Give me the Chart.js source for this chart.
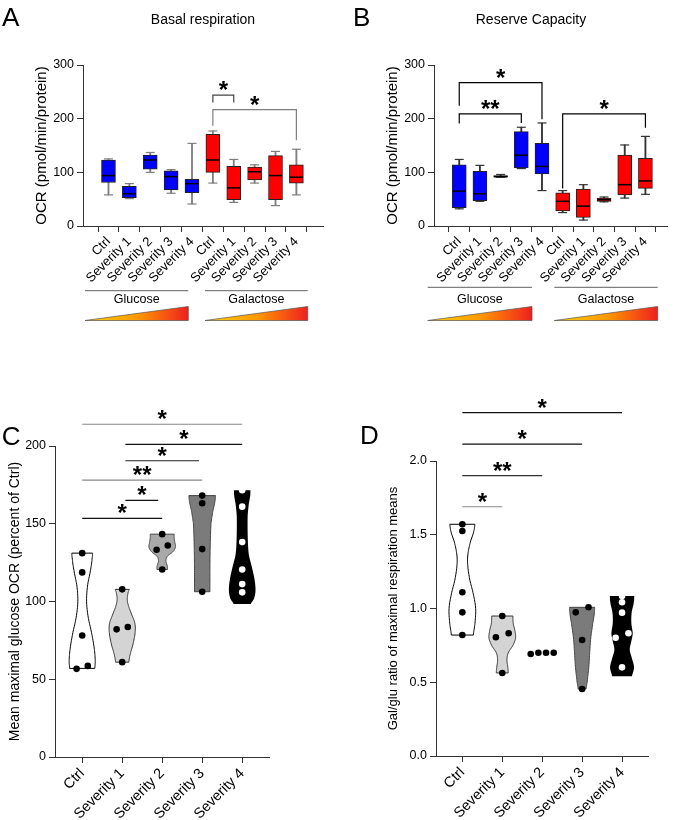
<!DOCTYPE html>
<html>
<head>
<meta charset="utf-8">
<script src="https://cdn.jsdelivr.net/npm/chart.js@4.4.0/dist/chart.umd.min.js"></script>
<style>
  html, body { margin: 0; background: #fff; }
  body { position: relative; width: 675px; height: 820px; overflow: hidden; }
  canvas { position: absolute; }
</style>
</head>
<body>
<canvas id="panelA" width="337" height="330" style="left:0;top:0"></canvas>
<canvas id="panelB" width="338" height="330" style="left:337px;top:0"></canvas>
<canvas id="panelC" width="337" height="440" style="left:0;top:380px"></canvas>
<canvas id="panelD" width="338" height="440" style="left:337px;top:380px"></canvas>
<script>
const FONT = "'Liberation Sans', Arial, Helvetica, sans-serif";

// ---------- data ----------
const severities = ['Ctrl', 'Severity 1', 'Severity 2', 'Severity 3', 'Severity 4'];
const media = ['Glucose', 'Galactose'];
const boxLabels = media.flatMap(() => severities);

// A: basal respiration, OCR (pmol/min/protein) - glucose groups then galactose groups
const basalMin    = [58, 51, 100, 61, 41, 80, 44, 80, 38, 58];
const basalQ1     = [81, 53, 106, 67, 62, 100, 49, 86, 49, 80];
const basalMedian = [94, 60, 123, 92, 79, 123, 71, 101, 94, 91];
const basalQ3     = [123, 74, 132, 103, 87, 171, 111, 110, 131, 114];
const basalMax    = [125, 79, 137, 105, 154, 177, 124, 114, 139, 143];

// B: reserve capacity
const reserveMin    = [32, 46, 91, 107, 66, 25, 11, 45, 52, 59];
const reserveQ1     = [34, 47, 91, 108, 97, 28, 16, 46, 58, 70];
const reserveMedian = [65, 60, 92, 132, 111, 46, 37, 49, 77, 84];
const reserveQ3     = [114, 102, 94, 176, 154, 62, 69, 52, 132, 126];
const reserveMax    = [124, 113, 96, 184, 192, 66, 77, 54, 151, 167];

// brackets: [from, to, bar level, left leg end, right leg end, label]
const basalSig   = [[5, 6, 244, 230, 230, '*'], [5, 9, 217, 187, 160, '*']];
const reserveSig = [[0, 4, 267, 224, 199, '*'], [0, 3, 209, 191, 192, '**'], [5, 9, 209, 70, 183, '*']];

// C: mean maximal glucose OCR (percent of Ctrl), one list per severity
const maxOcrPoints = [
  [131.1, 118.7, 78.1, 58.6, 56.7],
  [107.8, 83.6, 82.1, 61.0],
  [143.3, 136.0, 133.3, 120.6],
  [168.1, 163.2, 133.7, 106.3],
  [171.5, 161.0, 138.2, 120.6, 111.2, 105.9]
];
// violin outlines: [value, relative density]
const maxOcrViolin = [
  [[57, 0.95], [62, 0.98], [70, 0.9], [80, 0.7], [90, 0.45], [100, 0.33], [110, 0.4], [120, 0.62], [128, 0.75], [131.1, 0.78]],
  [[61, 0.5], [66, 0.6], [72, 0.8], [80, 0.97], [86, 0.95], [92, 0.7], [98, 0.45], [102, 0.38], [106, 0.45], [107.8, 0.53]],
  [[120.6, 0.4], [123, 0.38], [126, 0.28], [129, 0.38], [132, 0.8], [135, 1.0], [138, 0.95], [141, 0.9], [143.3, 0.9]],
  [[106.3, 0.58], [120, 0.58], [135, 0.6], [150, 0.66], [158, 0.8], [164, 0.95], [168.1, 1.0]],
  [[98.4, 0.65], [102, 0.9], [107, 1.0], [114, 0.93], [122, 0.73], [130, 0.5], [140, 0.42], [155, 0.41], [163, 0.5], [168, 0.6], [171.5, 0.62]]
];
// lines: [from, to, level, label]
const maxOcrSig = [[0, 4, 214, '*'], [1.08, 4, 201, '*'], [1.08, 2.92, 190.5, '*'], [0, 3, 178, '**'], [1.08, 1.9, 165, '*'], [0, 2, 153.5, '*']];

// D: gal/glu ratio of maximal respiration means
const ratioPoints = [
  [1.571, 1.525, 1.110, 0.974, 0.820],
  [0.949, 0.832, 0.805, 0.563],
  [0.692, 0.700, 0.700, 0.700],
  [1.008, 0.974, 0.786, 0.454],
  [1.085, 1.042, 0.972, 0.832, 0.802, 0.601]
];
const ratioViolin = [
  [[0.82, 0.83], [0.9, 0.95], [1.0, 1.0], [1.1, 0.82], [1.2, 0.55], [1.3, 0.4], [1.37, 0.42], [1.45, 0.6], [1.52, 0.85], [1.571, 0.94]],
  [[0.563, 0.45], [0.6, 0.42], [0.65, 0.35], [0.7, 0.45], [0.75, 0.8], [0.8, 1.0], [0.85, 0.95], [0.9, 0.82], [0.949, 0.8]],
  [],
  [[0.454, 0.3], [0.5, 0.38], [0.6, 0.5], [0.7, 0.57], [0.8, 0.65], [0.9, 0.8], [0.97, 0.92], [1.008, 0.94]],
  [[0.54, 0.75], [0.6, 0.9], [0.66, 0.75], [0.72, 0.58], [0.78, 0.7], [0.83, 0.8], [0.9, 0.7], [0.97, 0.72], [1.04, 0.88], [1.085, 0.92]]
];
const ratioSig = [[0, 4, 2.328, '*'], [0, 3, 2.115, '*'], [0, 2, 1.901, '**'], [0, 1, 1.69, '*']];

// ---------- helpers ----------
function xAxis(labels, min, max, size, height) {
  return {
    type: 'linear', min, max, bounds: 'data',
    afterBuildTicks: s => { s.ticks = labels.map((_, i) => ({ value: i })); },
    afterFit: s => { s.height = height; },
    ticks: { callback: v => labels[v], autoSkip: false, minRotation: 45, maxRotation: 45,
             color: '#000', padding: 2, font: { family: FONT, size } },
    grid: { drawOnChartArea: false, tickLength: 6, color: '#333' },
    border: { color: '#333', width: 1 }
  };
}
function yAxis(title, titleSize, max, step, width, digits) {
  return {
    type: 'linear', min: 0, max,
    afterFit: s => { s.width = width; },
    ticks: { stepSize: step, color: '#000', padding: 3, font: { family: FONT, size: 12.5 },
             callback: v => v.toFixed(digits) },
    grid: { drawOnChartArea: false, tickLength: 6, color: '#333' },
    border: { color: '#333', width: 1 },
    title: { display: true, text: title, color: '#000', padding: 0, font: { family: FONT, size: titleSize } }
  };
}

// spread points with near-equal values side by side (in category units)
function swarm(values, thresh, step) {
  const idx = values.map((_, i) => i).sort((a, b) => values[a] - values[b]);
  const off = values.map(() => 0);
  let k = 0;
  while (k < idx.length) {
    let j = k;
    while (j + 1 < idx.length && values[idx[j + 1]] - values[idx[j]] < thresh) j++;
    const n = j - k + 1;
    const s = n > 2 ? step * 0.6 : step;
    for (let m = 0; m < n; m++) off[idx[k + m]] = n > 1 ? (m - (n - 1) / 2) * s : 0;
    k = j + 1;
  }
  return off;
}

function smoothProfile(p) {
  const out = [];
  for (let i = 0; i < p.length - 1; i++) {
    const p0 = p[Math.max(i - 1, 0)], p1 = p[i], p2 = p[i + 1], p3 = p[Math.min(i + 2, p.length - 1)];
    for (let s = 0; s < 10; s++) {
      const t = s / 10;
      const d = 0.5 * (2 * p1[1] + (p2[1] - p0[1]) * t + (2 * p0[1] - 5 * p1[1] + 4 * p2[1] - p3[1]) * t * t +
                (3 * p1[1] - p0[1] - 3 * p2[1] + p3[1]) * t * t * t);
      out.push([p1[0] + (p2[0] - p1[0]) * t, Math.max(d, 0.05)]);
    }
  }
  out.push(p[p.length - 1]);
  return out;
}

function makeExtras(cfg) {
  return {
    id: 'extras',
    beforeDatasetsDraw(chart) {
      if (!cfg.violins) return;
      const { ctx } = chart, xs = chart.scales.x, ys = chart.scales.y, v = cfg.violins;
      ctx.save();
      v.shapes.forEach((prof, g) => {
        if (prof.length < 2) return;
        const cx = xs.getPixelForValue(g), pts = smoothProfile(prof);
        ctx.beginPath();
        pts.forEach(([val, d], k) => {
          const x = cx - d * v.halfWidth, y = ys.getPixelForValue(val);
          k ? ctx.lineTo(x, y) : ctx.moveTo(x, y);
        });
        for (let k = pts.length - 1; k >= 0; k--) ctx.lineTo(cx + pts[k][1] * v.halfWidth, ys.getPixelForValue(pts[k][0]));
        ctx.closePath();
        ctx.fillStyle = v.fills[g];
        ctx.fill();
        if (v.strokes[g]) { ctx.strokeStyle = v.strokes[g]; ctx.lineWidth = 1; ctx.stroke(); }
      });
      ctx.restore();
    },
    afterDraw(chart) {
      const { ctx } = chart, xs = chart.scales.x, ys = chart.scales.y;
      ctx.save();
      ctx.fillStyle = '#000';
      ctx.textBaseline = 'alphabetic';
      ctx.textAlign = 'left';
      ctx.font = `26px ${FONT}`;
      ctx.fillText(cfg.letter[0], cfg.letter[1], cfg.letter[2]);
      if (cfg.title) {
        ctx.textAlign = 'center';
        ctx.font = `14px ${FONT}`;
        ctx.fillText(cfg.title[0], cfg.title[1], cfg.title[2]);
      }
      // significance brackets / lines
      cfg.sig.forEach((b, k) => {
        const x0 = xs.getPixelForValue(b[0]), x1 = xs.getPixelForValue(b[1]);
        const y = ys.getPixelForValue(b[2]);
        ctx.strokeStyle = cfg.sigColors[k];
        ctx.lineWidth = 1.2;
        ctx.beginPath();
        if (b.length === 6) {
          ctx.moveTo(x0, ys.getPixelForValue(b[3]));
          ctx.lineTo(x0, y); ctx.lineTo(x1, y);
          ctx.lineTo(x1, ys.getPixelForValue(b[4]));
        } else {
          ctx.moveTo(x0, y); ctx.lineTo(x1, y);
        }
        ctx.stroke();
        ctx.fillStyle = '#000';
        ctx.textAlign = 'center';
        ctx.font = `bold 24px ${FONT}`;
        ctx.fillText(b[b.length - 1], (x0 + x1) / 2, y + 3);
      });
      // medium annotation with gradient triangles
      (cfg.groups || []).forEach(gp => {
        ctx.strokeStyle = '#808080';
        ctx.lineWidth = 1.2;
        ctx.beginPath(); ctx.moveTo(gp.x0, gp.lineY); ctx.lineTo(gp.x1, gp.lineY); ctx.stroke();
        ctx.fillStyle = '#000';
        ctx.textAlign = 'center';
        ctx.font = `12.5px ${FONT}`;
        ctx.fillText(gp.label, (gp.x0 + gp.x1) / 2, 303);
        const grad = ctx.createLinearGradient(gp.x0, 0, gp.x1, 0);
        grad.addColorStop(0, '#ffd200');
        grad.addColorStop(0.5, '#ff9a00');
        grad.addColorStop(1, '#ee2020');
        ctx.beginPath();
        ctx.moveTo(gp.x0, 320.5); ctx.lineTo(gp.x1, 320.5); ctx.lineTo(gp.x1, 306.5); ctx.closePath();
        ctx.fillStyle = grad; ctx.fill();
        ctx.strokeStyle = '#555'; ctx.lineWidth = 0.7; ctx.stroke();
      });
      ctx.restore();
    }
  };
}

function boxDatasets(labels, mins, q1, med, q3, maxs, whiskerColor) {
  const colors = labels.map((_, i) => i < severities.length ? '#0000ff' : '#ff0000');
  return [
    { type: 'scatter', order: 0, data: med.map((y, i) => ({ x: i, y })), pointStyle: 'line',
      pointRadius: 6.5, borderColor: '#000', pointBorderColor: '#000', pointBorderWidth: 1.5, borderWidth: 1.5 },
    { type: 'bar', order: 1, grouped: false, data: labels.map((_, i) => ({ x: i, y: [q1[i], q3[i]] })),
      backgroundColor: colors, borderColor: '#222', borderWidth: 1, borderSkipped: false, barThickness: 14 },
    { type: 'scatter', order: 2, data: mins.map((y, i) => ({ x: i, y })).concat(maxs.map((y, i) => ({ x: i, y }))),
      pointStyle: 'line', pointRadius: 4.5, borderColor: whiskerColor, pointBorderColor: whiskerColor, pointBorderWidth: 1.2, borderWidth: 1.2 },
    { type: 'bar', order: 3, grouped: false, data: labels.map((_, i) => ({ x: i, y: [mins[i], maxs[i]] })),
      backgroundColor: whiskerColor, borderWidth: 0, barThickness: 1.2 }
  ];
}

function dotDataset(groups, thresh, step) {
  const pts = [], fill = [];
  groups.forEach((vals, g) => {
    const off = swarm(vals, thresh, step);
    vals.forEach((v, k) => { pts.push({ x: g + off[k], y: v }); fill.push(g === 4 ? '#ffffff' : '#000000'); });
  });
  return { type: 'scatter', data: pts, pointRadius: 3.3, pointBackgroundColor: fill, pointBorderWidth: 0, borderWidth: 0 };
}

const common = { responsive: false, animation: false, events: [], plugins: { legend: { display: false }, tooltip: { enabled: false } } };

// ---------- A ----------
new Chart(document.getElementById('panelA'), {
  type: 'bar',
  data: { datasets: boxDatasets(boxLabels, basalMin, basalQ1, basalMedian, basalQ3, basalMax, '#7f7f7f') },
  options: { ...common,
    layout: { padding: { left: 33, top: 65, right: 14, bottom: 0 } },
    scales: { x: xAxis(boxLabels, -0.646, 9.70, 13, 104), y: yAxis('OCR (pmol/min/protein)', 15, 300, 100, 50, 0) } },
  plugins: [makeExtras({ letter: ['A', 2, 26], title: ['Basal respiration', 203, 24], sig: basalSig, sigColors: ['#444', '#7f7f7f'],
    groups: [{ label: media[0], x0: 85, x1: 188.3, lineY: 290.7 }, { label: media[1], x0: 205, x1: 307.7, lineY: 290.7 }] })]
});

// ---------- B ----------
new Chart(document.getElementById('panelB'), {
  type: 'bar',
  data: { datasets: boxDatasets(boxLabels, reserveMin, reserveQ1, reserveMedian, reserveQ3, reserveMax, '#333') },
  options: { ...common,
    layout: { padding: { left: 47, top: 65, right: 5, bottom: 0 } },
    scales: { x: xAxis(boxLabels, -0.657, 9.48, 13, 104), y: yAxis('OCR (pmol/min/protein)', 15, 300, 100, 50, 0) } },
  plugins: [makeExtras({ letter: ['B', 16, 26], title: ['Reserve Capacity', 194, 24], sig: reserveSig, sigColors: ['#000', '#000', '#000'],
    groups: [{ label: media[0], x0: 90.7, x1: 195, lineY: 287.3 }, { label: media[1], x0: 217.3, x1: 320.7, lineY: 287.3 }] })]
});

// ---------- C ----------
new Chart(document.getElementById('panelC'), {
  type: 'scatter',
  data: { datasets: [dotDataset(maxOcrPoints, 3.5, 0.28)] },
  options: { ...common,
    layout: { padding: { left: 7, top: 66, right: 68, bottom: 0 } },
    scales: { x: xAxis(severities, -0.68, 4.67, 14.5, 63), y: yAxis('Mean maximal glucose OCR (percent of Ctrl)', 14, 200, 50, 48, 0) } },
  plugins: [makeExtras({ letter: ['C', 1.7, 65], sig: maxOcrSig, sigColors: ['#888', '#111', '#222', '#888', '#111', '#111'],
    violins: { shapes: maxOcrViolin, halfWidth: 13.3,
      fills: ['#ffffff', '#d4d4d4', '#a9a9a9', '#7b7b7b', '#000000'], strokes: ['#000', '#333', '#444', '#444', null] } })]
});

// ---------- D ----------
new Chart(document.getElementById('panelD'), {
  type: 'scatter',
  data: { datasets: [dotDataset(ratioPoints, 0.037, 0.32)] },
  options: { ...common,
    layout: { padding: { left: 48.5, top: 81, right: 27, bottom: 0 } },
    scales: { x: xAxis(severities, -0.66, 4.65, 14.5, 64), y: yAxis('Gal/glu ratio of maximal respiration means', 13, 2, 0.5, 50.5, 1) } },
  plugins: [makeExtras({ letter: ['D', 23, 64], sig: ratioSig, sigColors: ['#111', '#111', '#333', '#888'],
    violins: { shapes: ratioViolin, halfWidth: 13.3,
      fills: ['#ffffff', '#d4d4d4', '#a9a9a9', '#7b7b7b', '#000000'], strokes: ['#000', '#333', '#444', '#444', null] } })]
});
</script>
</body>
</html>
